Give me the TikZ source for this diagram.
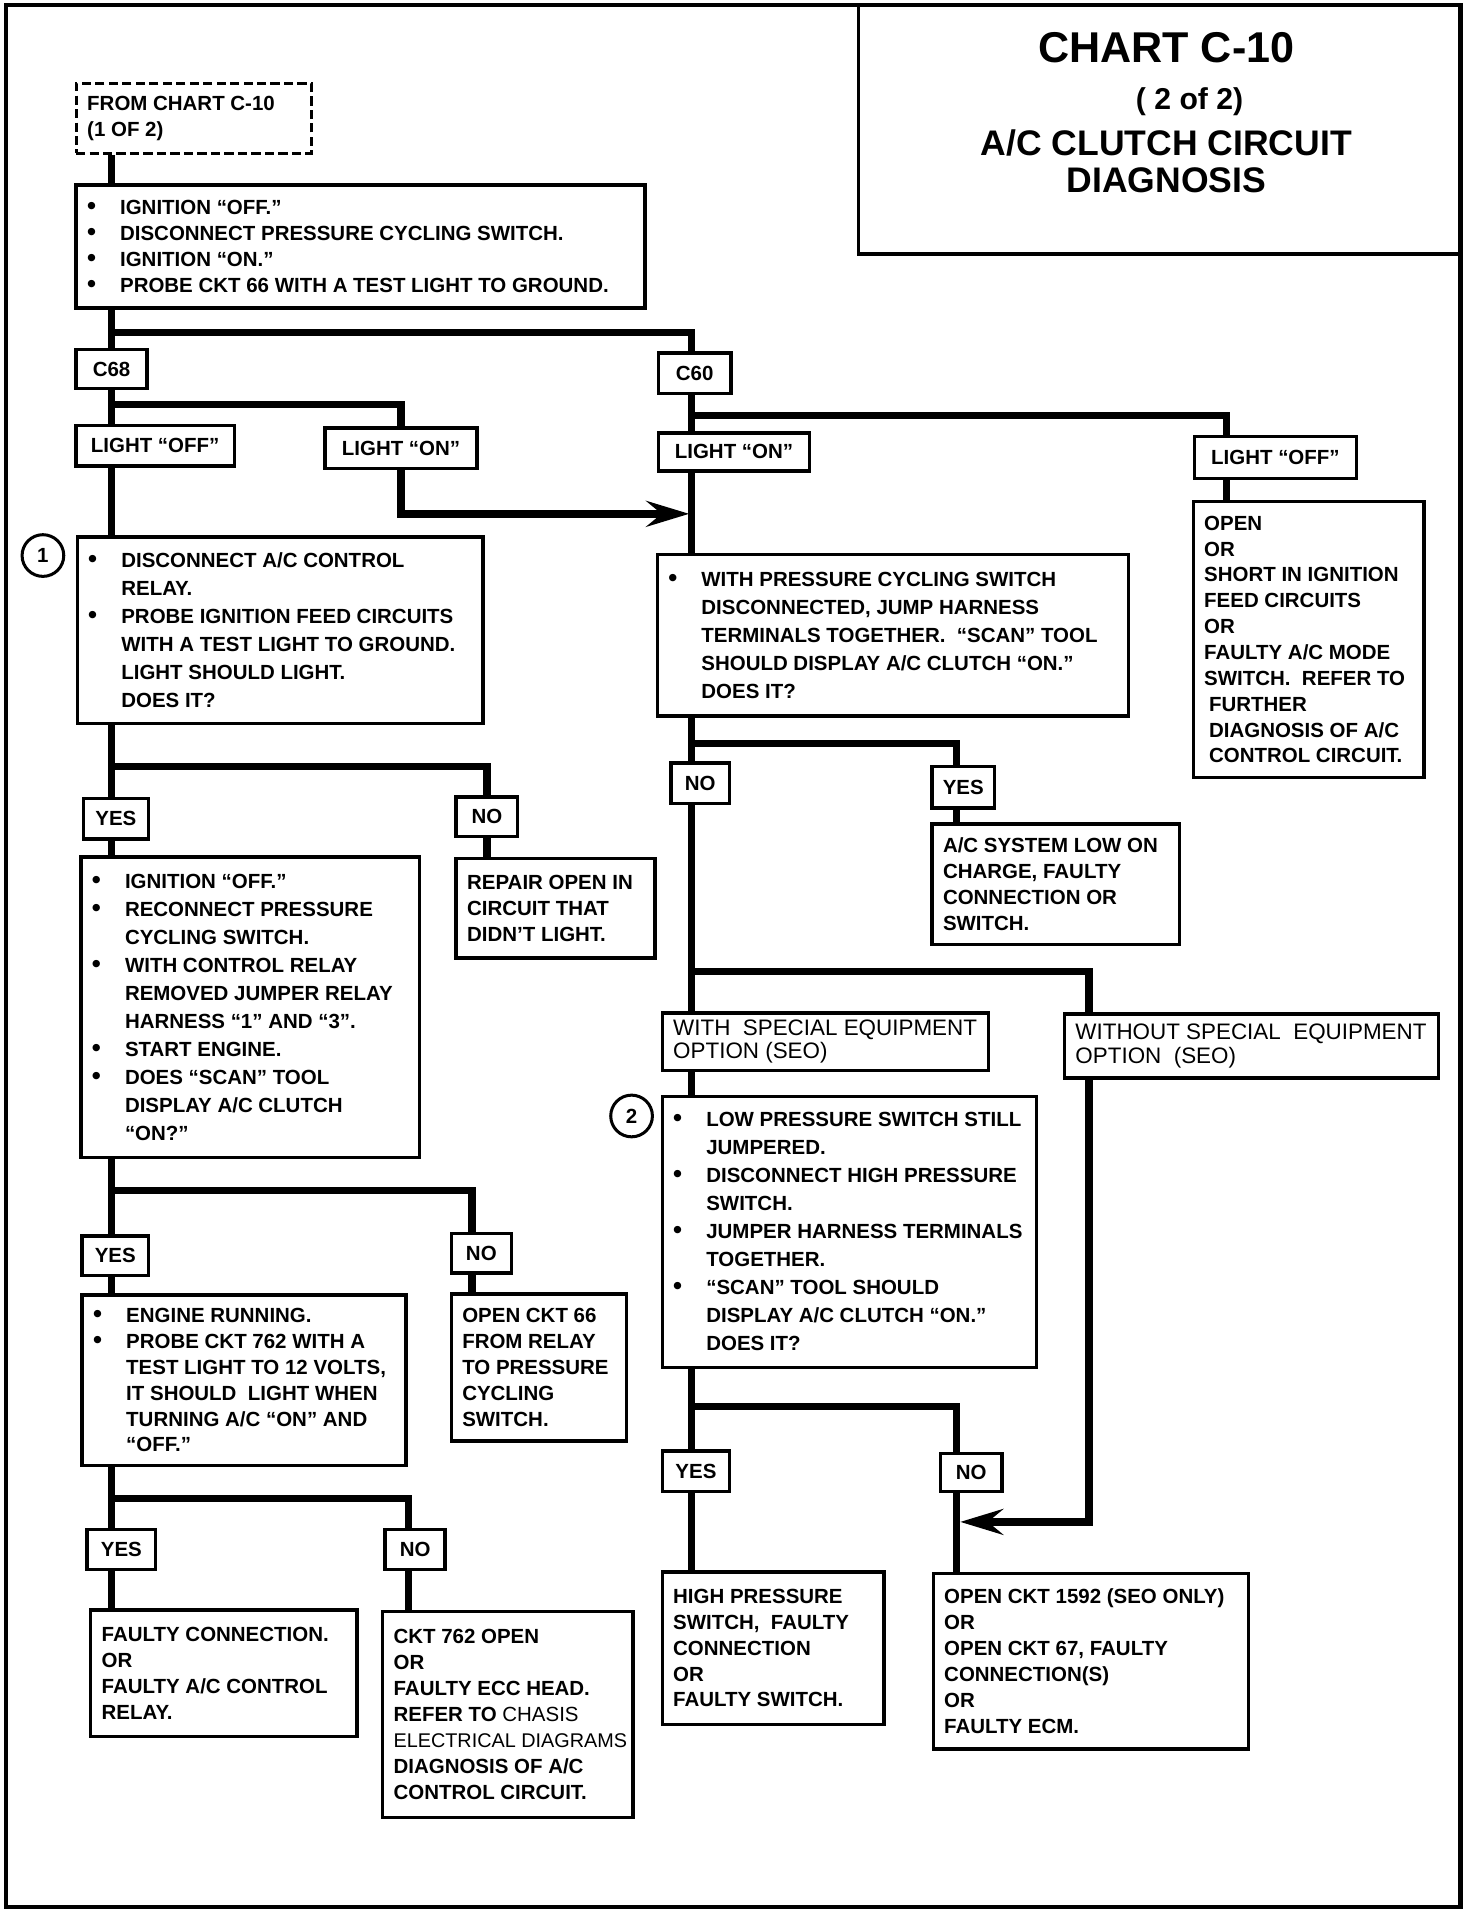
\documentclass[tikz,border=0pt]{standalone}
\usepackage{fontspec}
\setmainfont{Liberation Sans}
\usetikzlibrary{arrows.meta,fit}
\newcommand{\tx}{\fontsize{9.5}{12}\selectfont\bfseries}
\newcommand{\txw}{\fontsize{9.5}{13}\selectfont\bfseries}
\newcommand{\seo}{\fontsize{10.4}{10.8}\selectfont}
\newcommand{\bul}{\makebox[0.54cm][l]{\scalebox{1.25}{\textbullet}}}
\newcommand{\ind}{\hspace*{0.54cm}}
\begin{document}
\begin{tikzpicture}[x=0.02cm,y=-0.02cm]
	\tikzstyle{box}=[draw,line width=1.6pt,inner sep=0pt]
	\tikzstyle{dbox}=[box,line width=1.4pt,dash pattern=on 0.15cm off 0.07cm]
	\tikzstyle{tag}=[box]
	\tikzstyle{every label}=[font=\tx,inner sep=0pt]
	\tikzstyle{txt}=[anchor=west,align=left,inner sep=0pt,font=\tx]
	\tikzstyle{wire}=[line width=3.4pt]
	\tikzstyle{arr}=[wire,-{Stealth[length=0.7cm,width=0.42cm,inset=0.25cm]}]
	\useasboundingbox (0,0) rectangle (1200,1564);
	\draw[line width=2pt] (5,4) rectangle (1191,1555);

	% title
	\node[box,fit={(700,4) (1191,207)}] (title) {};
	\node[anchor=base] (ttl1) at (951,51) {\fontsize{20}{24}\selectfont\bfseries CHART C-10};
	\node[anchor=base] (ttl2) at (970,89) {\fontsize{14}{16}\selectfont\bfseries ( 2 of 2)};
	\node[anchor=base] (ttl3) at (951,127) {\fontsize{16.5}{19}\selectfont\bfseries A/C CLUTCH CIRCUIT};
	\node[anchor=base] (ttl4) at (951,157) {\fontsize{16.5}{19}\selectfont\bfseries DIAGNOSIS};

	% trunk lines and junctions
	\coordinate (xL) at (91,0);
	\coordinate (xM) at (564,0);
	\coordinate (xR) at (1000,0);
	\coordinate (xW) at (888,0);
	\coordinate (xY) at (780,0);
	\coordinate (xD) at (385,0);
	\coordinate (xE) at (333,0);
	\coordinate (j1) at (91,271);
	\coordinate (j2) at (91,330);
	\coordinate (j3) at (564,339);
	\coordinate (j4) at (564,606);
	\coordinate (j5) at (564,792);
	\coordinate (j6) at (564,1147);
	\coordinate (j7) at (91,625);
	\coordinate (j8) at (91,971);
	\coordinate (j9) at (91,1222);
	\coordinate (aOn) at (562,419);
	\coordinate (aSeo) at (783,1241);

	% left column
	\node[dbox,fit={(62,68) (254,125)}] (from) {};
	\node[txt] (from-t) at ([xshift=0.2cm]from.west) {FROM CHART C-10\\(1 OF 2)};
	\node[box,fit={(62,151) (526,251)}] (ign) {};
	\node[txt] (ign-t) at ([xshift=0.2cm]ign.west) {\bul IGNITION ``OFF.''\\\bul DISCONNECT PRESSURE CYCLING SWITCH.\\\bul IGNITION ``ON.''\\\bul PROBE CKT 66 WITH A TEST LIGHT TO GROUND.};
	\node[tag,fit={(62,285) (120,317)},label=center:C68] (c68) {};
	\node[tag,fit={(62,347) (191,380)},label=center:LIGHT ``OFF''] (offL) {};
	\node[tag,fit={(265,349) (389,382)},label=center:LIGHT ``ON''] (onL) {};
	\node[circle,draw,line width=1.4pt,minimum size=0.68cm,inner sep=0pt,font=\tx] (s1) at (35,453) {1};
	\node[box,fit={(63,438) (394,590)}] (chk) {};
	\node[txt,font=\txw] (chk-t) at ([xshift=0.2cm]chk.west) {\bul DISCONNECT A/C CONTROL\\\ind RELAY.\\\bul PROBE IGNITION FEED CIRCUITS\\\ind WITH A TEST LIGHT TO GROUND.\\\ind LIGHT SHOULD LIGHT.\\\ind DOES IT?};
	\node[tag,fit={(68,651) (121,684)},label=center:YES] (yesC) {};
	\node[tag,fit={(372,650) (422,682)},label=center:NO] (noC) {};
	\node[box,fit={(372,700) (534,781)}] (repair) {};
	\node[txt] (repair-t) at ([xshift=0.2cm]repair.west) {REPAIR OPEN IN\\CIRCUIT THAT\\DIDN'T LIGHT.};
	\node[box,fit={(66,699) (342,944)}] (reconn) {};
	\node[txt,font=\txw] (reconn-t) at ([xshift=0.2cm]reconn.west) {\bul IGNITION ``OFF.''\\\bul RECONNECT PRESSURE\\\ind CYCLING SWITCH.\\\bul WITH CONTROL RELAY\\\ind REMOVED JUMPER RELAY\\\ind HARNESS ``1'' AND ``3''.\\\bul START ENGINE.\\\bul DOES ``SCAN'' TOOL\\\ind DISPLAY A/C CLUTCH\\\ind ``ON?''};
	\node[tag,fit={(67,1008) (121,1040)},label=center:YES] (yesD) {};
	\node[tag,fit={(368,1006) (417,1038)},label=center:NO] (noD) {};
	\node[box,fit={(67,1056) (331,1195)}] (engine) {};
	\node[txt] (engine-t) at ([xshift=0.2cm]engine.west) {\bul ENGINE RUNNING.\\\bul PROBE CKT 762 WITH A\\\ind TEST LIGHT TO 12 VOLTS,\\\ind IT SHOULD\ \ LIGHT WHEN\\\ind TURNING A/C ``ON'' AND\\\ind ``OFF.''};
	\node[box,fit={(368,1055) (511,1175)}] (open66) {};
	\node[txt] (open66-t) at ([xshift=0.2cm]open66.west) {OPEN CKT 66\\FROM RELAY\\TO PRESSURE\\CYCLING\\SWITCH.};
	\node[tag,fit={(71,1247) (127,1280)},label=center:YES] (yesE) {};
	\node[tag,fit={(314,1247) (363,1280)},label=center:NO] (noE) {};
	\node[box,fit={(74,1313) (291,1416)}] (faulty) {};
	\node[txt] (faulty-t) at ([xshift=0.2cm]faulty.west) {FAULTY CONNECTION.\\OR\\FAULTY A/C CONTROL\\RELAY.};
	\node[box,fit={(312,1314) (516,1482)}] (ckt762) {};
	\node[txt] (ckt762-t) at ([xshift=0.2cm]ckt762.west) {CKT 762 OPEN\\OR\\FAULTY ECC HEAD.\\REFER TO {\mdseries CHASIS}\\{\mdseries\fontsize{9.2}{12}\selectfont ELECTRICAL\ DIAGRAMS}\\DIAGNOSIS OF A/C\\CONTROL CIRCUIT.};

	% right column
	\node[tag,fit={(537,288) (596,321)},label=center:C60] (c60) {};
	\node[tag,fit={(537,353) (660,384)},label=center:LIGHT ``ON''] (onR) {};
	\node[tag,fit={(974,356) (1106,390)},label=center:LIGHT ``OFF''] (offR) {};
	\node[box,fit={(973,409) (1161,634)}] (short) {};
	\node[txt] (short-t) at ([xshift=0.2cm]short.west) {OPEN\\OR\\SHORT IN IGNITION\\FEED CIRCUITS\\OR\\FAULTY A/C MODE\\SWITCH.\ \ REFER TO\\\hspace*{0.08cm}FURTHER\\\hspace*{0.08cm}DIAGNOSIS OF A/C\\\hspace*{0.08cm}CONTROL CIRCUIT.};
	\node[box,fit={(536,452) (920,584)}] (jump) {};
	\node[txt,font=\txw] (jump-t) at ([xshift=0.2cm]jump.west) {\bul WITH PRESSURE CYCLING SWITCH\\\ind DISCONNECTED, JUMP HARNESS\\\ind TERMINALS TOGETHER.\ \ ``SCAN'' TOOL\\\ind SHOULD DISPLAY A/C CLUTCH ``ON.''\\\ind DOES IT?};
	\node[tag,fit={(547,622) (595,655)},label=center:NO] (noA) {};
	\node[tag,fit={(760,625) (811,659)},label=center:YES] (yesA) {};
	\node[box,fit={(760,672) (962,770)}] (lowc) {};
	\node[txt] (lowc-t) at ([xshift=0.2cm]lowc.west) {A/C SYSTEM LOW ON\\CHARGE, FAULTY\\CONNECTION OR\\SWITCH.};
	\node[box,fit={(540,826) (806,873)}] (wseo) {};
	\node[txt,font=\seo] (wseo-t) at ([xshift=0.2cm]wseo.west) {WITH\ \ SPECIAL EQUIPMENT\\OPTION (SEO)};
	\node[box,fit={(868,827) (1173,879)}] (woseo) {};
	\node[txt,font=\seo] (woseo-t) at ([xshift=0.2cm]woseo.west) {WITHOUT SPECIAL\ \ EQUIPMENT\\OPTION\ \ (SEO)};
	\node[circle,draw,line width=1.4pt,minimum size=0.68cm,inner sep=0pt,font=\tx] (s2) at (515,910) {2};
	\node[box,fit={(540,894) (845,1115)}] (test2) {};
	\node[txt,font=\txw] (test2-t) at ([xshift=0.2cm]test2.west) {\bul LOW PRESSURE SWITCH STILL\\\ind JUMPERED.\\\bul DISCONNECT HIGH PRESSURE\\\ind SWITCH.\\\bul JUMPER HARNESS TERMINALS\\\ind TOGETHER.\\\bul ``SCAN'' TOOL SHOULD\\\ind DISPLAY A/C CLUTCH ``ON.''\\\ind DOES IT?};
	\node[tag,fit={(540,1183) (595,1216)},label=center:YES] (yesB) {};
	\node[tag,fit={(767,1185) (817,1216)},label=center:NO] (noB) {};
	\node[box,fit={(540,1282) (721,1406)}] (highP) {};
	\node[txt] (highP-t) at ([xshift=0.2cm]highP.west) {HIGH PRESSURE\\SWITCH,\ \ FAULTY\\CONNECTION\\OR\\FAULTY SWITCH.};
	\node[box,fit={(761,1283) (1018,1426)}] (ecm) {};
	\node[txt] (ecm-t) at ([xshift=0.2cm]ecm.west) {OPEN CKT 1592 (SEO ONLY)\\OR\\OPEN CKT 67, FAULTY\\CONNECTION(S)\\OR\\FAULTY ECM.};

	% connections, left
	\draw[wire] (from.south -| xL) -- (ign.north -| xL);
	\draw[wire] (ign.south -| xL) -- (c68.north -| xL);
	\draw[wire] (j1) -| (c60.north -| xM);
	\draw[wire] (c68.south -| xL) -- (offL.north -| xL);
	\draw[wire] (j2) -| (onL.north);
	\draw[arr] (onL.south) |- (aOn);
	\draw[wire] (offL.south -| xL) -- (chk.north -| xL);
	\draw[wire] (chk.south -| xL) -- (yesC.north -| xL);
	\draw[wire] (j7) -| (noC.north);
	\draw[wire] (noC.south) -- (noC.south |- repair.north);
	\draw[wire] (yesC.south -| xL) -- (reconn.north -| xL);
	\draw[wire] (reconn.south -| xL) -- (yesD.north -| xL);
	\draw[wire] (j8) -| (noD.north -| xD);
	\draw[wire] (noD.south -| xD) -- (open66.north -| xD);
	\draw[wire] (yesD.south -| xL) -- (engine.north -| xL);
	\draw[wire] (engine.south -| xL) -- (yesE.north -| xL);
	\draw[wire] (j9) -| (noE.north -| xE);
	\draw[wire] (yesE.south -| xL) -- (faulty.north -| xL);
	\draw[wire] (noE.south -| xE) -- (ckt762.north -| xE);

	% connections, right
	\draw[wire] (c60.south -| xM) -- (onR.north -| xM);
	\draw[wire] (j3) -| (offR.north -| xR);
	\draw[wire] (offR.south -| xR) -- (short.north -| xR);
	\draw[wire] (onR.south -| xM) -- (jump.north -| xM);
	\draw[wire] (jump.south -| xM) -- (noA.north -| xM);
	\draw[wire] (j4) -| (yesA.north -| xY);
	\draw[wire] (yesA.south -| xY) -- (lowc.north -| xY);
	\draw[wire] (noA.south -| xM) -- (wseo.north -| xM);
	\draw[wire] (j5) -| (woseo.north -| xW);
	\draw[arr] (woseo.south -| xW) |- (aSeo);
	\draw[wire] (wseo.south -| xM) -- (test2.north -| xM);
	\draw[wire] (test2.south -| xM) -- (yesB.north -| xM);
	\draw[wire] (j6) -| (noB.north -| xY);
	\draw[wire] (yesB.south -| xM) -- (highP.north -| xM);
	\draw[wire] (noB.south -| xY) -- (ecm.north -| xY);
\end{tikzpicture}
\end{document}
